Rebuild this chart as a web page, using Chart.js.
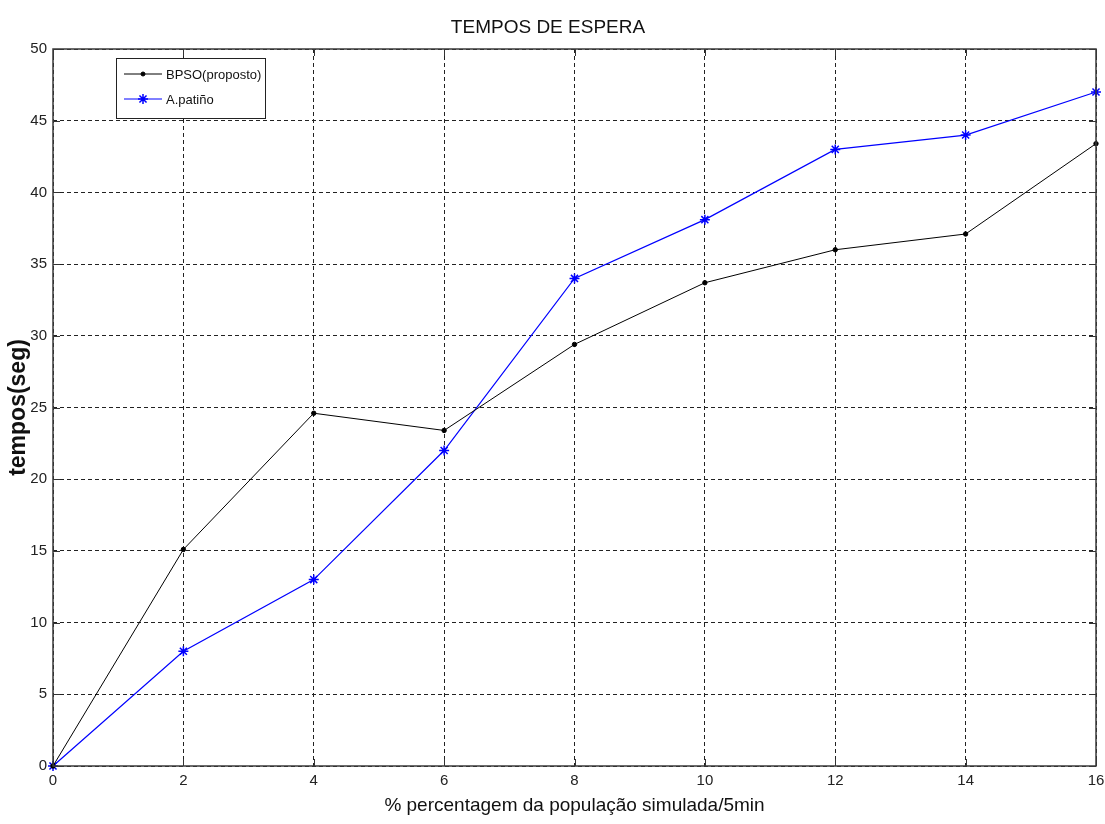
<!DOCTYPE html>
<html>
<head>
<meta charset="utf-8">
<script src="https://cdn.jsdelivr.net/npm/chart.js@4/dist/chart.umd.min.js"></script>
<style>
  html, body { margin: 0; padding: 0; background: #fff; }
  #wrap { width: 1105px; height: 824px; position: relative; }
</style>
</head>
<body>
<div id="wrap"><canvas id="c"></canvas></div>
<script>
// Percentage of simulated population (per 5 min)
const populacao = [0, 2, 4, 6, 8, 10, 12, 14, 16];
// Waiting times (seconds)
const bpso = [0, 15.1, 24.6, 23.4, 29.4, 33.7, 36.0, 37.1, 43.4];
const patino = [0, 8.0, 13.0, 22.0, 34.0, 38.1, 43.0, 44.0, 47.0];
const yTicks = [0, 5, 10, 15, 20, 25, 30, 35, 40, 45, 50];
const xTicks = [0, 2, 4, 6, 8, 10, 12, 14, 16];

const FONT = "'Liberation Sans', Arial, sans-serif";

const toPoints = (ys) => populacao.map((x, i) => ({ x, y: ys[i] }));

// Frame with inward tick marks on all four sides
const framePlugin = {
  id: 'frame',
  afterDatasetsDraw(chart) {
    const { ctx, chartArea: a, scales } = chart;
    ctx.save();
    ctx.strokeStyle = '#333';
    ctx.lineWidth = 1;
    const len = 7;
    ctx.beginPath();
    yTicks.forEach(v => {
      const y = Math.round(scales.y.getPixelForValue(v)) + 0.5;
      ctx.moveTo(a.left, y); ctx.lineTo(a.left + len, y);
      ctx.moveTo(a.right, y); ctx.lineTo(a.right - len, y);
    });
    xTicks.forEach(v => {
      const x = Math.round(scales.x.getPixelForValue(v)) + 0.5;
      ctx.moveTo(x, a.bottom); ctx.lineTo(x, a.bottom - len);
      ctx.moveTo(x, a.top); ctx.lineTo(x, a.top + len);
    });
    ctx.stroke();
    ctx.lineWidth = 1.5;
    ctx.strokeStyle = '#3a3a3a';
    ctx.strokeRect(a.left, a.top, a.right - a.left, a.bottom - a.top);
    ctx.restore();
  }
};

// Inset legend box in the upper-left corner of the plot
const insetLegend = {
  id: 'insetLegend',
  afterDraw(chart) {
    const { ctx, chartArea: a } = chart;
    const bx = a.left + 63, by = a.top + 9, bw = 149, bh = 60;
    ctx.save();
    ctx.fillStyle = '#fff';
    ctx.fillRect(bx, by, bw, bh);
    ctx.strokeStyle = '#222';
    ctx.lineWidth = 1;
    ctx.strokeRect(bx + 0.5, by + 0.5, bw, bh);
    ctx.font = '13px ' + FONT;
    ctx.textBaseline = 'middle';
    chart.data.datasets.forEach((ds, i) => {
      const ry = by + 16 + i * 25;
      ctx.strokeStyle = ds.borderColor;
      ctx.lineWidth = 1;
      ctx.beginPath();
      ctx.moveTo(bx + 8, ry); ctx.lineTo(bx + 46, ry);
      ctx.stroke();
      ctx.fillStyle = ds.pointBackgroundColor;
      ctx.strokeStyle = ds.pointBorderColor;
      ctx.lineWidth = ds.pointBorderWidth;
      Chart.helpers.drawPoint(ctx, {
        pointStyle: ds.pointStyle,
        radius: ds.legendRadius,
        borderWidth: ds.pointBorderWidth,
        rotation: 0
      }, bx + 27, ry);
      ctx.fillStyle = '#111';
      ctx.fillText(ds.label, bx + 50, ry + 1);
    });
    ctx.restore();
  }
};

new Chart(document.getElementById('c'), {
  type: 'line',
  data: {
    datasets: [
      {
        label: 'BPSO(proposto)',
        data: toPoints(bpso),
        borderColor: '#000',
        backgroundColor: '#000',
        borderWidth: 1,
        pointStyle: 'circle',
        pointRadius: 2.2,
        legendRadius: 2,
        pointBackgroundColor: '#000',
        pointBorderColor: '#000',
        pointBorderWidth: 1,
        tension: 0,
        clip: false
      },
      {
        label: 'A.patiño',
        data: toPoints(patino),
        borderColor: '#0000ff',
        backgroundColor: '#0000ff',
        borderWidth: 1.2,
        pointStyle: 'star',
        pointRadius: 5,
        legendRadius: 5,
        pointBackgroundColor: '#0000ff',
        pointBorderColor: '#0000ff',
        pointBorderWidth: 1.5,
        tension: 0,
        clip: false
      }
    ]
  },
  options: {
    responsive: true,
    maintainAspectRatio: false,
    animation: false,
    layout: { padding: { left: 0, right: 9, top: 0, bottom: 0 } },
    plugins: {
      legend: { display: false },
      tooltip: { enabled: false },
      title: {
        display: true,
        text: 'TEMPOS DE ESPERA',
        color: '#111',
        font: { family: FONT, size: 19, weight: 'normal' },
        padding: { top: 16, bottom: 10.2 }
      }
    },
    scales: {
      x: {
        type: 'linear',
        min: 0,
        max: 16,
        afterBuildTicks(scale) { scale.ticks = xTicks.map(v => ({ value: v })); },
        afterFit(scale) { scale.height = 58; scale.paddingLeft = 0; scale.paddingRight = 0; },
        ticks: {
          color: '#222',
          padding: 6,
          font: { family: FONT, size: 15 },
          maxRotation: 0
        },
        grid: { color: '#222', lineWidth: 1, drawTicks: false },
        border: { display: false, dash: [4, 3] },
        title: {
          display: true,
          text: '% percentagem da população simulada/5min',
          color: '#111',
          font: { family: FONT, size: 19 },
          padding: { top: 0, bottom: 6.6 }
        }
      },
      y: {
        type: 'linear',
        min: 0,
        max: 50,
        afterBuildTicks(scale) { scale.ticks = yTicks.map(v => ({ value: v })); },
        afterFit(scale) { scale.width = 53; scale.paddingTop = 0; scale.paddingBottom = 0; },
        ticks: {
          color: '#222',
          padding: 6,
          font: { family: FONT, size: 15 }
        },
        grid: { color: '#222', lineWidth: 1, drawTicks: false },
        border: { display: false, dash: [4, 3] },
        title: {
          display: true,
          text: 'tempos(seg)',
          color: '#111',
          font: { family: FONT, size: 23, weight: 'bold' },
          padding: { top: 5, bottom: 0 }
        }
      }
    }
  },
  plugins: [framePlugin, insetLegend]
});
</script>
</body>
</html>
